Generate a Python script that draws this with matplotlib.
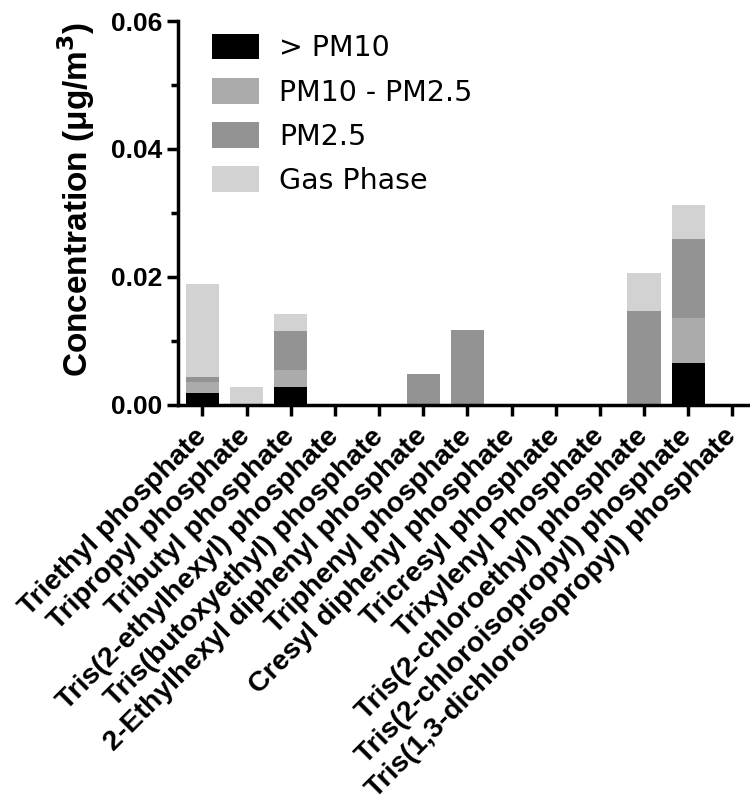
import matplotlib
matplotlib.use("Agg")
import matplotlib.pyplot as plt
import numpy as np

categories = [
    "Triethyl phosphate", "Tripropyl phosphate", "Tributyl phosphate",
    "Tris(2-ethylhexyl) phosphate", "Tris(butoxyethyl) phosphate",
    "2-Ethylhexyl diphenyl phosphate", "Triphenyl phosphate",
    "Cresyl diphenyl phosphate", "Tricresyl phosphate", "Trixylenyl Phosphate",
    "Tris(2-chloroethyl) phosphate", "Tris(2-chloroisopropyl) phosphate",
    "Tris(1,3-dichloroisopropyl) phosphate",
]
gt_pm10 =    [0.0019, 0.0, 0.0028, 0, 0, 0.0,    0.0,    0, 0, 0, 0.0,    0.0066, 0]
pm10_pm25 =  [0.0017, 0.0, 0.0027, 0, 0, 0.0,    0.0,    0, 0, 0, 0.0,    0.0069, 0]
pm25 =       [0.0008, 0.0, 0.0060, 0, 0, 0.0048, 0.0117, 0, 0, 0, 0.0147, 0.0124, 0]
gas =        [0.0145, 0.0028, 0.0027, 0, 0, 0.0, 0.0,    0, 0, 0, 0.0059, 0.0053, 0]

series = [("> PM10", gt_pm10, "#000000"),
          ("PM10 - PM2.5", pm10_pm25, "#ababab"),
          ("PM2.5", pm25, "#939393"),
          ("Gas Phase", gas, "#d2d2d2")]

fig = plt.figure(figsize=(7.5, 8.08), dpi=100)
ax = fig.add_axes([0.237, 0.499, 0.76, 0.475])

x = np.arange(len(categories))
bottom = np.zeros(len(categories))
for name, vals, col in series:
    v = np.array(vals, dtype=float)
    ax.bar(x, v, bottom=bottom, width=0.75, color=col, label=name, linewidth=0)
    bottom += v

ax.set_xlim(-0.56, 12.35)
ax.set_ylim(0, 0.06)
ax.set_yticks([0.0, 0.02, 0.04, 0.06])
ax.set_yticklabels(["0.00", "0.02", "0.04", "0.06"])
ax.set_yticks([0.01, 0.03, 0.05], minor=True)
ax.set_xticks(x)
ax.set_xticklabels(categories, rotation=45, ha="right", va="center",
                   rotation_mode="anchor", fontsize=20.5, fontweight="bold",
                   family="Liberation Sans")
for lab in ax.get_yticklabels():
    lab.set_fontsize(19)
    lab.set_fontweight("bold")
    lab.set_family("Liberation Sans")

for s in ["top", "right"]:
    ax.spines[s].set_visible(False)
for s in ["left", "bottom"]:
    ax.spines[s].set_linewidth(2.5)

ax.tick_params(axis="both", which="major", direction="out", length=8, width=2.5)
ax.tick_params(axis="y", which="minor", direction="out", length=5, width=2.5)
ax.tick_params(axis="x", which="major", pad=12)
ax.tick_params(axis="y", which="major", pad=3)

ax.set_ylabel("Concentration (\u03bcg/m$^\\mathbf{3}$)", fontsize=24, fontweight="bold",
              family="Liberation Sans")
ax.yaxis.set_label_coords(-0.142, 0.535)

leg = ax.legend(loc="upper left", bbox_to_anchor=(0.016, 1.033), frameon=False,
                prop={"family": "DejaVu Sans", "size": 20.5},
                handlelength=1.62, handleheight=1.0, labelspacing=0.55,
                handletextpad=0.72)

fig.savefig("out.png", dpi=100)
